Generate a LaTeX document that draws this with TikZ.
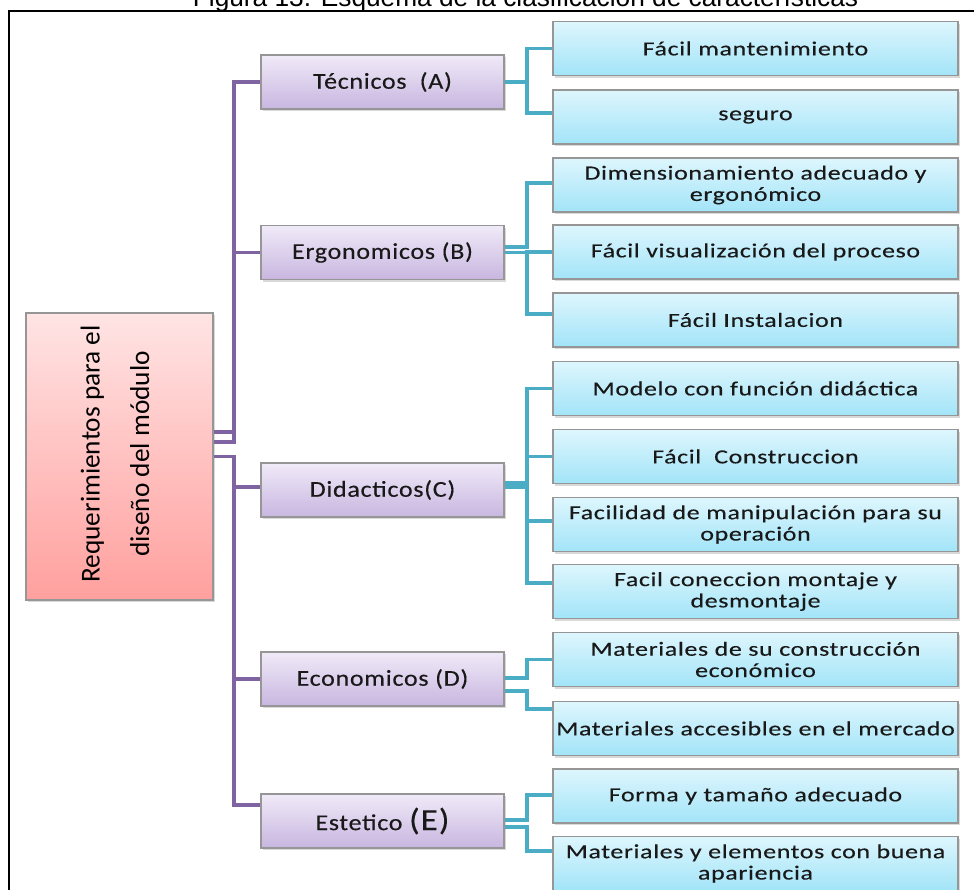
\documentclass[tikz,border=0pt]{standalone}
\usepackage{fontspec}
\setmainfont{Carlito}
\newfontfamily\boxfont[FakeStretch=1.3,LetterSpace=3,FakeBold=0.3]{Carlito}
\newfontfamily\catfont[FakeStretch=1.15,LetterSpace=3,FakeBold=0.3]{Carlito}
\newfontfamily\capfont{Liberation Sans}
\usetikzlibrary{shadows}
\newlength\pu
\setlength\pu{0.75pt}

\definecolor{purpleline}{RGB}{128,100,162}
\definecolor{tealline}{RGB}{75,172,198}
\definecolor{purptop}{RGB}{240,234,248}
\definecolor{purpbot}{RGB}{200,182,224}
\definecolor{bluetop}{RGB}{222,246,253}
\definecolor{bluebot}{RGB}{162,228,248}
\definecolor{pinktop}{RGB}{255,228,228}
\definecolor{pinkbot}{RGB}{255,160,158}
\definecolor{boxedge}{RGB}{150,150,150}

\begin{document}
\begin{tikzpicture}[x=0.75pt,y=-0.75pt,
  boxbase/.style={draw=boxedge, line width=1.1pt, inner sep=0pt, align=center,
    text=black!90, drop shadow={shadow xshift=1.6pt,shadow yshift=-1.6pt,opacity=0.3}},
  rootbox/.style={boxbase, top color=pinktop, bottom color=pinkbot,
    minimum width=187\pu, minimum height=287\pu},
  catbox/.style={boxbase, top color=purptop, bottom color=purpbot,
    minimum width=243\pu, minimum height=54\pu, font=\catfont\fontsize{17}{20}\selectfont},
  itembox/.style={boxbase, top color=bluetop, bottom color=bluebot,
    minimum width=405\pu, minimum height=54\pu, font=\boxfont\fontsize{15}{16}\selectfont},
  pline/.style={draw=purpleline, line width=2.6pt},
  tline/.style={draw=tealline, line width=2.8pt},
]
\useasboundingbox (0,0) rectangle (974,889);

% caption above the frame
\node[font=\capfont\fontsize{19.7}{22}\selectfont, anchor=base, inner sep=0pt] (cap) at (525.5,6)
  {Figura 13. Esquema de la clasificación de características};

% outer frame
\draw[line width=1.6pt] (9,11) rectangle (990,905);

% root
\node[rootbox] (root) at (119.5,456.5) {};
\node[rotate=90, align=center, inner sep=0pt, text=black, font=\fontsize{20.5}{37}\selectfont] (roottext)
  at (115,454) {Requerimientos para el\\diseño del módulo};

% categories
\node[catbox] (A) at (382.5,82)    {Técnicos\ \ (A)};
\node[catbox] (B) at (382.5,252.5) {Ergonomicos (B)};
\node[catbox] (C) at (382.5,490)   {Didacticos(C)};
\node[catbox] (D) at (382.5,679)   {Economicos (D)};
\node[catbox] (E) at (382.5,821)   {Estetico {\fontsize{23}{24}\selectfont(E)}};

% items
\node[itembox] (b1)  at (755.5,48.5)  {Fácil mantenimiento};
\node[itembox] (b2)  at (755.5,117)   {seguro};
\node[itembox] (b3)  at (755.5,185)   {Dimensionamiento adecuado y\\ergonómico};
\node[itembox] (b4)  at (755.5,252)   {Fácil visualización del proceso};
\node[itembox] (b5)  at (755.5,320)   {Fácil Instalacion};
\node[itembox] (b6)  at (755.5,388.5) {Modelo con función didáctica};
\node[itembox] (b7)  at (755.5,456.5) {Fácil\ \ Construccion};
\node[itembox] (b8)  at (755.5,524.5) {Facilidad de manipulación para su\\operación};
\node[itembox] (b9)  at (755.5,591.5) {Facil coneccion montaje y\\desmontaje};
\node[itembox] (b10) at (755.5,659.5) {Materiales de su construcción\\económico};
\node[itembox] (b11) at (755.5,728.5) {Materiales accesibles en el mercado};
\node[itembox] (b12) at (755.5,796)   {Forma y tamaño adecuado};
\node[itembox] (b13) at (755.5,863.5) {Materiales y elementos con buena\\apariencia};

% trunk and bar positions
\coordinate (trunk) at (234,456);
\coordinate (bar) at (527,0);

% root to categories
\draw[pline] ([yshift=24.5\pu]root.east) -| (trunk |- A.west) -- (A.west);
\draw[pline] ([yshift=14.5\pu]root.east) -| (trunk |- B.west) -- (B.west);
\coordinate (cin) at ([yshift=3\pu]C.west);
\draw[pline] (root.east) -| (trunk |- cin) -- (cin);
\draw[pline] (root.east) -| (trunk |- D.west) -- (D.west);
\coordinate (ein) at ([yshift=16\pu]E.west);
\draw[pline] (root.east) -| (trunk |- ein) -- (ein);

% entry points on the items
\coordinate (e1)  at (b1.west);
\coordinate (e2)  at ([yshift=4\pu]b2.west);
\coordinate (e3)  at ([yshift=2\pu]b3.west);
\coordinate (e4)  at (b4.west);
\coordinate (e5)  at ([yshift=6\pu]b5.west);
\coordinate (e6)  at (b6.west);
\coordinate (e7)  at (b7.west);
\coordinate (e8)  at ([yshift=3.5\pu]b8.west);
\coordinate (e9)  at ([yshift=8.5\pu]b9.west);
\coordinate (e10) at (b10.west);
\coordinate (e11) at ([yshift=19.5\pu]b11.west);
\coordinate (e12) at ([yshift=1\pu]b12.west);
\coordinate (e13) at ([yshift=12.5\pu]b13.west);

% categories to items
\draw[tline] (A.east) -| (bar |- e1) -- (e1);
\draw[tline] (A.east) -| (bar |- e2) -- (e2);
\draw[tline] ([yshift=5.5\pu]B.east) -| (bar |- e3) -- (e3);
\draw[tline] (B.east) -| (bar |- e4) -- (e4);
\draw[tline] (B.east) -| (bar |- e5) -- (e5);
\draw[tline] ([yshift=7\pu]C.east) -| (bar |- e6) -- (e6);
\draw[tline] ([yshift=7\pu]C.east) -| (bar |- e7) -- (e7);
\draw[tline] ([yshift=3\pu]C.east) -| (bar |- e8) -- (e8);
\draw[tline] ([yshift=3\pu]C.east) -| (bar |- e9) -- (e9);
\draw[tline] ([yshift=1\pu]D.east) -| (bar |- e10) -- (e10);
\draw[tline] ([yshift=-12\pu]D.east) -| (bar |- e11) -- (e11);
\draw[tline] ([yshift=1\pu]E.east) -| (bar |- e12) -- (e12);
\draw[tline] ([yshift=-6\pu]E.east) -| (bar |- e13) -- (e13);
\end{tikzpicture}
\end{document}
